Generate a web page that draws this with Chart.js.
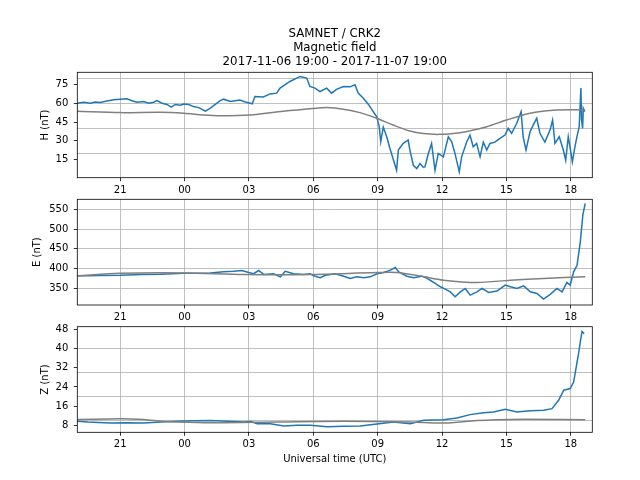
<!DOCTYPE html>
<html><head><meta charset="utf-8">
<script src="https://cdn.jsdelivr.net/npm/chart.js@4/dist/chart.umd.min.js"></script>
<style>
html,body{margin:0;padding:0;background:#fff;}
#wrap{position:relative;width:640px;height:480px;background:#fff;}
canvas{position:absolute;left:0;top:0;}
</style></head><body>
<div id="wrap">
<canvas id="c1" width="640" height="480"></canvas>
<canvas id="c2" width="640" height="480"></canvas>
<canvas id="c3" width="640" height="480"></canvas>
</div>
<script>
// ---- text ----
const titleLines = ['SAMNET / CRK2', 'Magnetic field', '2017-11-06 19:00 - 2017-11-07 19:00'];
const xAxisTitle = 'Universal time (UTC)';
const yTitles = ['H (nT)', 'E (nT)', 'Z (nT)'];

// ---- x axis: hours since 2017-11-06 19:00 ----
const xTickHours = [2, 5, 8, 11, 14, 17, 20, 23];
const xTickLabels = ['21', '00', '03', '06', '09', '12', '15', '18'];

// ---- y ticks ----
const hTickLabels = [15, 30, 45, 60, 75];
const hGridLines = [20, 40, 60, 80];
const eTickLabels = [350, 400, 450, 500, 550];
const eGridLines = [350, 400, 450, 500, 550];
const zTickLabels = [8, 16, 24, 32, 40, 48];
const zGridLines = [10, 20, 30, 40];

// ---- H component ----
const hTime = [0,0.3,0.6,0.84,1.07,1.38,1.7,2.0,2.32,2.55,2.78,3.09,3.33,3.56,3.71,3.95,4.18,4.37,4.57,4.8,4.96,5.19,5.42,5.66,5.97,6.2,6.43,6.66,6.82,7.13,7.35,7.58,7.83,8.06,8.15,8.28,8.67,8.98,9.29,9.45,9.91,10.38,10.69,10.84,11.08,11.31,11.62,11.85,12.08,12.4,12.71,12.94,13.09,13.33,13.56,13.79,13.95,14.07,14.14,14.26,14.42,14.57,14.88,14.96,15.19,15.42,15.5,15.66,15.82,15.97,16.12,16.2,16.36,16.51,16.67,16.82,17.06,17.29,17.45,17.6,17.8,17.91,18.15,18.3,18.45,18.61,18.77,18.92,19.08,19.23,19.46,19.7,19.93,20.08,20.24,20.48,20.68,20.78,20.91,21.1,21.25,21.41,21.56,21.79,22.03,22.15,22.26,22.46,22.65,22.76,22.88,22.96,23.07,23.19,23.3,23.39,23.47,23.5,23.55,23.58,23.65];
const hValues = [60,60.8,60,61,60.5,61.7,62.7,63.2,63.5,62,60.8,61.3,60,60.8,62,60,59,56.8,59,58.3,59.3,59,57.3,56.5,53.6,56,59,62,63.2,61.3,62,62.6,61,60,59.5,65.3,65,67.4,68,72,77.3,81.3,80,73.3,72,69.3,72,68,71,73.3,73,74.6,68,64,59.2,53.3,49.3,41.3,29.3,41,33.3,24,6.6,22.7,28,30.7,22.7,10.6,8,12,9,9.3,20,28,6.6,20,17.3,33.3,29.3,20,5.3,17.3,29.3,34.6,25.3,28,17.3,29,22.7,28,29,32,34.6,40,36,44,53.3,33,22.7,37.3,42.7,48,36,29,38.6,46.6,28,33.3,22.7,14.6,33.3,25.3,13.3,25.3,34.6,41.3,72,46.6,40,56,53.3];
const hQuietTime = [0,2.0,3.87,4.96,5.89,6.66,8.06,9.6,11.15,11.62,12.4,13.17,13.95,14.72,15.5,16.12,16.9,17.83,19.08,20.0,21.1,22.18,23.27,23.65];
const hQuiet = [53.6,52.5,52.8,52,50.6,50,50.6,53.6,56,56.5,55.2,52.5,48,42.6,37.8,35.8,35.2,36.5,41.3,46.6,52,54.4,54.7,54.5];

// ---- E component ----
const eTime = [0,0.5,1.0,2.0,3.0,3.87,4.96,6.2,6.82,7.29,7.67,7.99,8.22,8.45,8.69,9.15,9.46,9.69,10.08,10.55,10.86,11.01,11.32,11.56,12.02,12.41,12.72,13.03,13.35,13.65,13.97,14.28,14.59,14.82,14.98,15.36,15.68,16.06,16.3,16.61,16.92,17.15,17.38,17.61,17.85,18.08,18.31,18.63,18.86,19.17,19.56,19.94,20.18,20.49,20.8,21.11,21.42,21.73,22.04,22.35,22.59,22.82,22.97,23.13,23.29,23.44,23.56,23.67];
const eValues = [381.5,382,382.5,383,385,385.7,388,389,391.6,393,395,390,387,395,385,386.6,379,393,387,385,387,381.5,377,383,387,380.7,375,379,376.5,379,386.6,390,396,402.5,391.6,380.7,377,380.7,375,364.7,353.8,348,341,328.6,341,349.6,332.8,341,349.6,339.5,343,358,353.8,349.6,356,341,337,322.7,334.5,349.6,341,364.7,358,391.6,408.4,467,535.7,565];
const eQuietTime = [0,2.0,4.96,7.76,10.86,13.97,14.9,16.0,17.07,18.63,20.18,21.73,23.67];
const eQuiet = [381.5,388,389,385,385,390,390,381,370.6,364.7,370.6,375,379];

// ---- Z component ----
const zTime = [0,0.5,1.0,1.54,2.3,3.09,3.9,4.64,5.4,6.2,7.0,7.76,8.1,8.38,9.0,9.62,10.24,10.86,11.64,12.41,13.19,13.97,14.74,15.52,16.14,17.07,17.69,18.31,18.93,19.4,19.94,20.49,21.11,21.73,22.12,22.43,22.67,22.97,23.13,23.29,23.36,23.44,23.52,23.62];
const zValues = [9.6,9.3,9.1,8.9,9.0,8.9,9.3,9.6,9.8,9.9,9.6,9.3,9.5,8.6,8.6,7.6,7.9,7.9,7.35,7.5,7.6,8.5,9.3,8.6,10,10.3,11,12.4,13.2,13.5,14.6,13.5,14.0,14.2,14.9,18.4,22.6,23.3,26,34.4,37.9,42.8,47.2,46.3];
const zQuietTime = [0,1.5,2.5,3.09,4.0,4.64,6.2,9.3,12.41,15.52,17.07,18.63,20.18,23.67];
const zQuiet = [10.4,10.6,10.6,10.4,9.6,9.3,9.0,9.3,9.6,9.3,8.9,9.9,10.4,10.3];

// ---- rendering ----
Chart.defaults.font.family = "'DejaVu Sans', sans-serif";
Chart.defaults.font.size = 10;
Chart.defaults.color = '#000';

const framePlugin = {
  id: 'frame',
  afterDraw(chart) {
    const a = chart.chartArea, ctx = chart.ctx;
    ctx.save();
    ctx.strokeStyle = '#000';
    ctx.lineWidth = 0.8;
    ctx.strokeRect(a.left, a.top, a.right - a.left, a.bottom - a.top);
    ctx.restore();
  }
};

function pts(xs, ys) { return xs.map((x, i) => ({x: x, y: ys[i]})); }

function makePanel(id, o) {
  const labelSet = new Set(o.tickLabels);
  const gridSet = new Set(o.gridLines);
  const allY = Array.from(new Set(o.tickLabels.concat(o.gridLines))).sort((a, b) => a - b);
  const xScale = {
    type: 'linear', min: 0, max: 24,
    afterBuildTicks: s => { s.ticks = xTickHours.map(v => ({value: v})); },
    afterFit: s => { s.height = o.xHeight; },
    ticks: {
      autoSkip: false, maxRotation: 0, padding: 3,
      callback: v => { const i = xTickHours.indexOf(v); return i >= 0 ? xTickLabels[i] : ''; }
    },
    grid: { color: '#b0b0b0', lineWidth: 0.8, tickColor: '#000', tickWidth: 0.8, tickLength: 3.5 },
    border: { display: false },
    title: o.xTitle ? { display: true, text: xAxisTitle, padding: {top: 0, bottom: 14.5}, font: {size: 10} } : { display: false }
  };
  const yScale = {
    type: 'linear', min: o.min, max: o.max,
    afterBuildTicks: s => { s.ticks = allY.map(v => ({value: v})); },
    afterFit: s => { s.width = 77.3; },
    ticks: {
      autoSkip: false, padding: 5.5,
      callback: v => labelSet.has(v) ? String(v) : ''
    },
    grid: {
      lineWidth: 0.8, tickWidth: 0.8, tickLength: 3.5,
      color: c => (c.tick && gridSet.has(c.tick.value)) ? '#b0b0b0' : 'rgba(0,0,0,0)',
      tickColor: c => (c.tick && labelSet.has(c.tick.value)) ? '#000' : 'rgba(0,0,0,0)'
    },
    border: { display: false },
    title: { display: true, text: o.yTitle, padding: {top: o.yTitlePad, bottom: 0}, font: {size: 10} }
  };
  return new Chart(document.getElementById(id), {
    type: 'line',
    data: {
      datasets: [
        { data: pts(o.qTime, o.qVals), borderColor: '#808080', borderWidth: 1.5, pointRadius: 0, tension: 0.3, fill: false },
        { data: pts(o.time, o.vals), borderColor: '#1f77b4', borderWidth: 1.5, pointRadius: 0, tension: 0, fill: false }
      ]
    },
    options: {
      responsive: false, animation: false, devicePixelRatio: 1,
      layout: { padding: o.padding },
      plugins: {
        legend: { display: false }, tooltip: { enabled: false },
        title: o.title ? {
          display: true, fullSize: false, text: titleLines, color: '#000',
          font: { size: 11.8, weight: 'normal', lineHeight: 1.186 },
          padding: { top: 10, bottom: 3.8 }
        } : { display: false }
      },
      scales: { x: xScale, y: yScale }
    },
    plugins: [framePlugin]
  });
}

makePanel('c1', {
  time: hTime, vals: hValues, qTime: hQuietTime, qVals: hQuiet,
  min: 0.7, max: 84.6, tickLabels: hTickLabels, gridLines: hGridLines,
  yTitle: yTitles[0], yTitlePad: 39, xHeight: 20, title: true,
  padding: { top: 16.5, left: 0, right: 47.7, bottom: 282.3 }
});
makePanel('c2', {
  time: eTime, vals: eValues, qTime: eQuietTime, qVals: eQuiet,
  min: 307.7, max: 575.3, tickLabels: eTickLabels, gridLines: eGridLines,
  yTitle: yTitles[1], yTitlePad: 31.7, xHeight: 20, title: false,
  padding: { top: 199.3, left: 0, right: 47.7, bottom: 155 }
});
makePanel('c3', {
  time: zTime, vals: zValues, qTime: zQuietTime, qVals: zQuiet,
  min: 5.0, max: 49.2, tickLabels: zTickLabels, gridLines: zGridLines,
  yTitle: yTitles[2], yTitlePad: 39, xHeight: 47.7, title: false, xTitle: true,
  padding: { top: 326.7, left: 0, right: 47.7, bottom: 0 }
});
</script>
</body></html>
